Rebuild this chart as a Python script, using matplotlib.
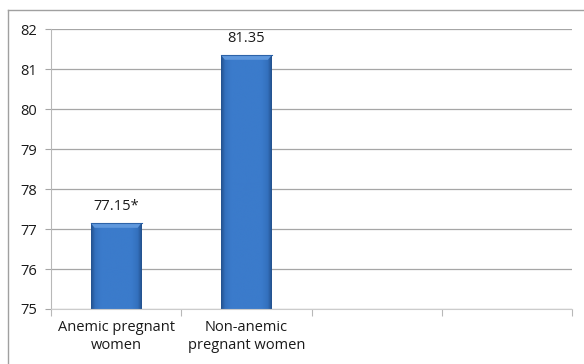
import numpy as np
import matplotlib.pyplot as plt
from matplotlib.colors import LinearSegmentedColormap

categories = ['Anemic pregnant\nwomen', 'Non-anemic\npregnant women', '', '']
values = [77.15, 81.35]
value_labels = ['77.15*', '81.35']

plt.rcParams['font.family'] = ['Open Sans', 'DejaVu Sans']

fig = plt.figure(figsize=(5.84, 3.64), dpi=100)
ax = fig.add_axes([0.0873, 0.1511, 0.8922, 0.7692])

# outer chart frame (top and left edges visible)
fig.add_artist(plt.Line2D([8 / 584, 8 / 584], [0, 1 - 10 / 364], color='#a0a0a0', lw=1.0))
fig.add_artist(plt.Line2D([8 / 584, 1], [1 - 10 / 364, 1 - 10 / 364], color='#a0a0a0', lw=1.0))

base = 75
width = 0.39
x = np.arange(len(values))

ax.set_xlim(-0.5, len(categories) - 0.5)
ax.set_ylim(75, 82)
ax.set_yticks(range(75, 83))
ax.yaxis.grid(True, color='#a6a6a6', lw=0.9)
ax.set_axisbelow(True)

# mostly flat fill with darker rims on the sides
shade = LinearSegmentedColormap.from_list(
    'bar', [(0, '#23508c'), (0.08, '#3370bd'), (0.2, '#3b7bcb'),
            (0.8, '#3b7bcb'), (0.92, '#3370bd'), (1, '#23508c')])
grad = np.linspace(0, 1, 256).reshape(1, -1)

for xi, v, lab in zip(x, values, value_labels):
    bar = ax.bar(xi, v - base, width, bottom=base, color='none', edgecolor='none')[0]
    im = ax.imshow(grad, cmap=shade, aspect='auto', zorder=2,
                   extent=[xi - width / 2, xi + width / 2, base, v])
    im.set_clip_path(bar)
    # bevelled top
    ax.fill([xi - width / 2, xi + width / 2, xi + width / 2 - 0.03, xi - width / 2 + 0.03],
            [v, v, v - 0.12, v - 0.12], color='#5f98dd', zorder=3, lw=0)
    ax.plot([xi - width / 2, xi + width / 2], [v, v], color='#2d63a8', lw=0.8, zorder=4)
    ax.text(xi, v + 0.22, lab, ha='center', va='bottom', fontsize=10.5, color='#1a1a1a')

ax.set_xticks(np.arange(-0.5, len(categories)), minor=False)
ax.set_xticklabels([])
ax.set_xticks(np.arange(len(categories)), minor=True)
ax.set_xticklabels(categories, minor=True, fontsize=10.5, color='#1a1a1a', linespacing=1.25)
ax.tick_params(axis='x', which='minor', length=0, pad=8)
ax.tick_params(axis='x', which='major', length=5, color='#b8b8b8', direction='out')
ax.tick_params(axis='y', length=4, color='#a6a6a6', labelsize=10.5, labelcolor='#1a1a1a', pad=6)

for side in ['top', 'right']:
    ax.spines[side].set_visible(False)
ax.spines['left'].set_color('#b8b8b8')
ax.spines['bottom'].set_color('#cccccc')

fig.savefig('out.png', dpi=100)
